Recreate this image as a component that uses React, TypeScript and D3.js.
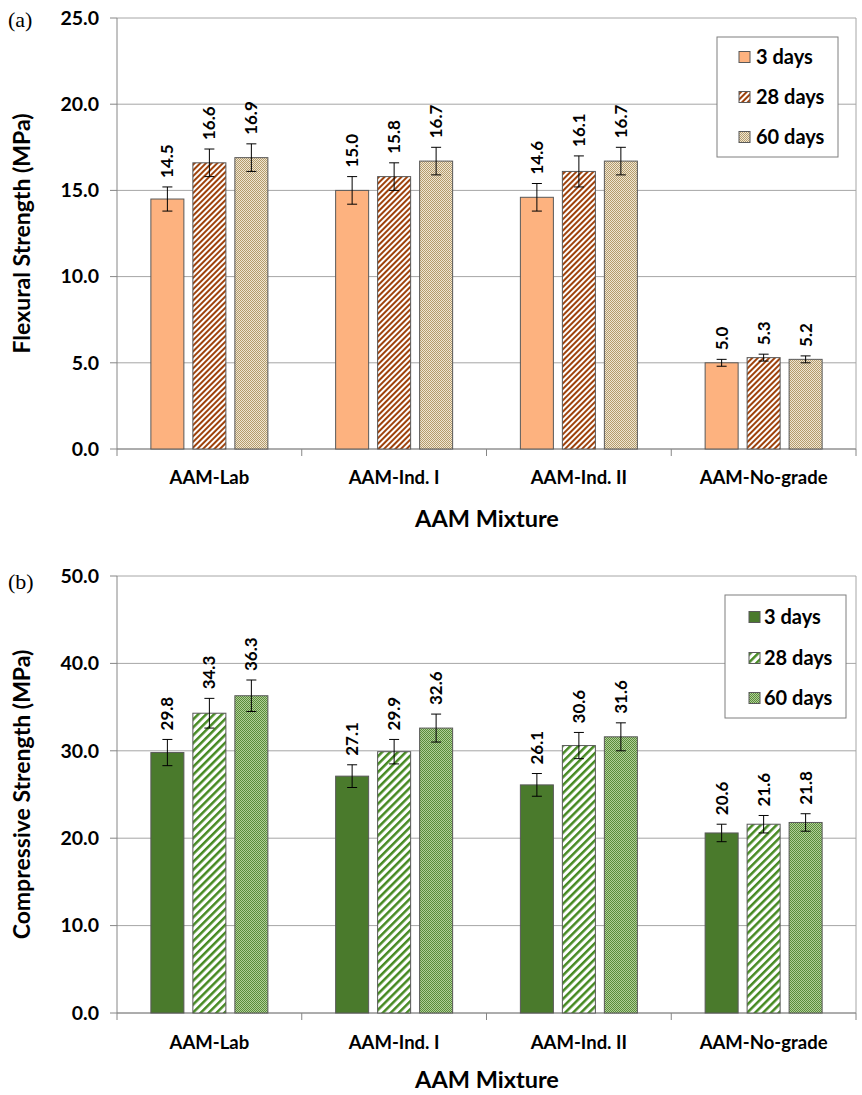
import React from "react";
import * as d3 from "d3";

const categories = ["AAM-Lab", "AAM-Ind. I", "AAM-Ind. II", "AAM-No-grade"];
const seriesNames = ["3 days", "28 days", "60 days"];

const flex3 = [14.5, 15.0, 14.6, 5.0];
const flex28 = [16.6, 15.8, 16.1, 5.3];
const flex60 = [16.9, 16.7, 16.7, 5.2];
const flexErr3 = [0.7, 0.8, 0.8, 0.2];
const flexErr28 = [0.8, 0.8, 0.9, 0.2];
const flexErr60 = [0.8, 0.8, 0.8, 0.2];

const comp3 = [29.8, 27.1, 26.1, 20.6];
const comp28 = [34.3, 29.9, 30.6, 21.6];
const comp60 = [36.3, 32.6, 31.6, 21.8];
const compErr3 = [1.5, 1.3, 1.3, 1.0];
const compErr28 = [1.7, 1.4, 1.5, 1.0];
const compErr60 = [1.8, 1.6, 1.6, 1.0];

const flexTicks = [0, 5, 10, 15, 20, 25];
const compTicks = [0, 10, 20, 30, 40, 50];

const FONT = "Lato, 'Open Sans', sans-serif";

type PanelProps = {
  tag: string;
  values: number[][];
  errs: number[][];
  ticks: number[];
  yMax: number;
  top: number;
  bottom: number;
  fills: string[];
  yTitle: string;
  legend: { x: number; y: number; w: number; h: number; rows: number[]; sx: number; tx: number };
  catY: number;
  titleY: number;
  tagY: number;
};

function Panel(p: PanelProps) {
  const left = 117;
  const right = 856;
  const y = d3.scaleLinear().domain([0, p.yMax]).range([p.bottom, p.top]);
  const x = d3.scaleBand().domain(categories).range([left, right]).paddingInner(0).paddingOuter(0);
  const sub = d3.scaleBand().domain(seriesNames).range([-58.5, 58.5]).paddingInner(0.214).paddingOuter(0);
  const bw = sub.bandwidth();
  const grid = "#A6A6A6";
  return (
    <g>
      <text x={8} y={p.tagY} fontFamily="'Liberation Serif', 'DejaVu Serif', serif" fontSize={22} fill="#000">{p.tag}</text>
      {p.ticks.map((t) => (
        <g key={t}>
          <line x1={left} x2={right} y1={y(t)} y2={y(t)} stroke={grid} strokeWidth={1} />
          <line x1={left - 7} x2={left} y1={y(t)} y2={y(t)} stroke="#868686" strokeWidth={1} />
          <text x={99} y={y(t)} dy="0.35em" textAnchor="end" fontFamily={FONT} fontWeight="bold" fontSize={19.5} fill="#000">
            {t.toFixed(1)}
          </text>
        </g>
      ))}
      <line x1={left} x2={left} y1={p.top} y2={p.bottom} stroke="#868686" strokeWidth={1} />
      <line x1={right} x2={right} y1={p.top} y2={p.bottom} stroke={grid} strokeWidth={1} />
      <line x1={left} x2={right} y1={p.bottom} y2={p.bottom} stroke="#868686" strokeWidth={1} />
      {categories.map((c, i) => (
        <line key={"t" + i} x1={x(c)!} x2={x(c)!} y1={p.bottom} y2={p.bottom + 7} stroke="#868686" />
      ))}
      <line x1={right} x2={right} y1={p.bottom} y2={p.bottom + 7} stroke="#868686" />
      {seriesNames.map((s, si) =>
        categories.map((c, ci) => {
          const v = p.values[si][ci];
          const e = p.errs[si][ci];
          const cx = x(c)! + x.bandwidth() / 2 + sub(s)! + bw / 2;
          const x0 = cx - bw / 2;
          return (
            <g key={s + c}>
              <rect x={x0} y={y(v)} width={bw} height={p.bottom - y(v)} fill={p.fills[si]} stroke="#595959" strokeWidth={1} />
              <line x1={cx} x2={cx} y1={y(v + e)} y2={y(v - e)} stroke="#000" strokeWidth={1} />
              <line x1={cx - 5} x2={cx + 5} y1={y(v + e)} y2={y(v + e)} stroke="#000" strokeWidth={1} />
              <line x1={cx - 5} x2={cx + 5} y1={y(v - e)} y2={y(v - e)} stroke="#000" strokeWidth={1} />
              <text
                transform={`translate(${cx},${y(v + e) - 9}) rotate(-90)`}
                dy="0.35em"
                textAnchor="start"
                fontFamily={FONT}
                fontWeight="bold"
                fontSize={17}
                fill="#000"
              >
                {v.toFixed(1)}
              </text>
            </g>
          );
        })
      )}
      {categories.map((c) => (
        <text key={"c" + c} x={x(c)! + x.bandwidth() / 2} y={p.catY} dy="0.35em" textAnchor="middle" fontFamily={FONT} fontWeight="bold" fontSize={18.5} fill="#000">
          {c}
        </text>
      ))}
      <text x={487} y={p.titleY} dy="0.35em" textAnchor="middle" fontFamily={FONT} fontWeight="bold" fontSize={23.5} fill="#000">
        AAM Mixture
      </text>
      <text transform={`translate(22,${(p.top + p.bottom) / 2}) rotate(-90)`} dy="0.35em" textAnchor="middle" fontFamily={FONT} fontWeight="bold" fontSize={23} fill="#000">
        {p.yTitle}
      </text>
      <rect x={p.legend.x} y={p.legend.y} width={p.legend.w} height={p.legend.h} fill="#fff" stroke="#7F7F7F" strokeWidth={1} />
      {seriesNames.map((s, si) => (
        <g key={"l" + s}>
          <rect x={p.legend.sx} y={p.legend.rows[si] - 5.5} width={11} height={11} fill={p.fills[si]} stroke="#595959" strokeWidth={1} />
          <text x={p.legend.tx} y={p.legend.rows[si]} dy="0.35em" fontFamily={FONT} fontWeight="bold" fontSize={20} fill="#000">
            {s}
          </text>
        </g>
      ))}
    </g>
  );
}

export default function App() {
  return (
    <svg width={862} height={1095} style={{ position: "absolute", left: 0, top: 0, background: "#fff" }}>
      <defs>
        <pattern id="stripeA" width={4} height={4} patternUnits="userSpaceOnUse" patternTransform="rotate(45)">
          <rect width={4} height={4} fill="#fff" />
          <rect width={2} height={4} fill="#9E420C" />
        </pattern>
        <pattern id="checkA" width={2} height={2} patternUnits="userSpaceOnUse">
          <rect width={2} height={2} fill="#EFE6D3" />
          <rect width={1} height={1} fill="#B59C6C" />
          <rect x={1} y={1} width={1} height={1} fill="#B59C6C" />
        </pattern>
        <pattern id="stripeB" width={5.6} height={5.6} patternUnits="userSpaceOnUse" patternTransform="rotate(45)">
          <rect width={5.6} height={5.6} fill="#fff" />
          <rect width={2.5} height={5.6} fill="#468A22" />
        </pattern>
        <pattern id="checkB" width={2} height={2} patternUnits="userSpaceOnUse">
          <rect width={2} height={2} fill="#B0CF98" />
          <rect width={1} height={1} fill="#5A8C3A" />
          <rect x={1} y={1} width={1} height={1} fill="#5A8C3A" />
        </pattern>
      </defs>
      <Panel
        tag="(a)"
        tagY={27}
        values={[flex3, flex28, flex60]}
        errs={[flexErr3, flexErr28, flexErr60]}
        ticks={flexTicks}
        yMax={25}
        top={18}
        bottom={449}
        fills={["#FDB27F", "url(#stripeA)", "url(#checkA)"]}
        yTitle="Flexural Strength (MPa)"
        legend={{ x: 717, y: 37, w: 121, h: 120, rows: [57, 97, 137], sx: 739, tx: 756 }}
        catY={478}
        titleY={519}
      />
      <Panel
        tag="(b)"
        tagY={589}
        values={[comp3, comp28, comp60]}
        errs={[compErr3, compErr28, compErr60]}
        ticks={compTicks}
        yMax={50}
        top={576}
        bottom={1013}
        fills={["#4A7A2C", "url(#stripeB)", "url(#checkB)"]}
        yTitle="Compressive Strength (MPa)"
        legend={{ x: 725, y: 595, w: 121, h: 123, rows: [617, 658, 698], sx: 749, tx: 764 }}
        catY={1043}
        titleY={1080}
      />
    </svg>
  );
}
